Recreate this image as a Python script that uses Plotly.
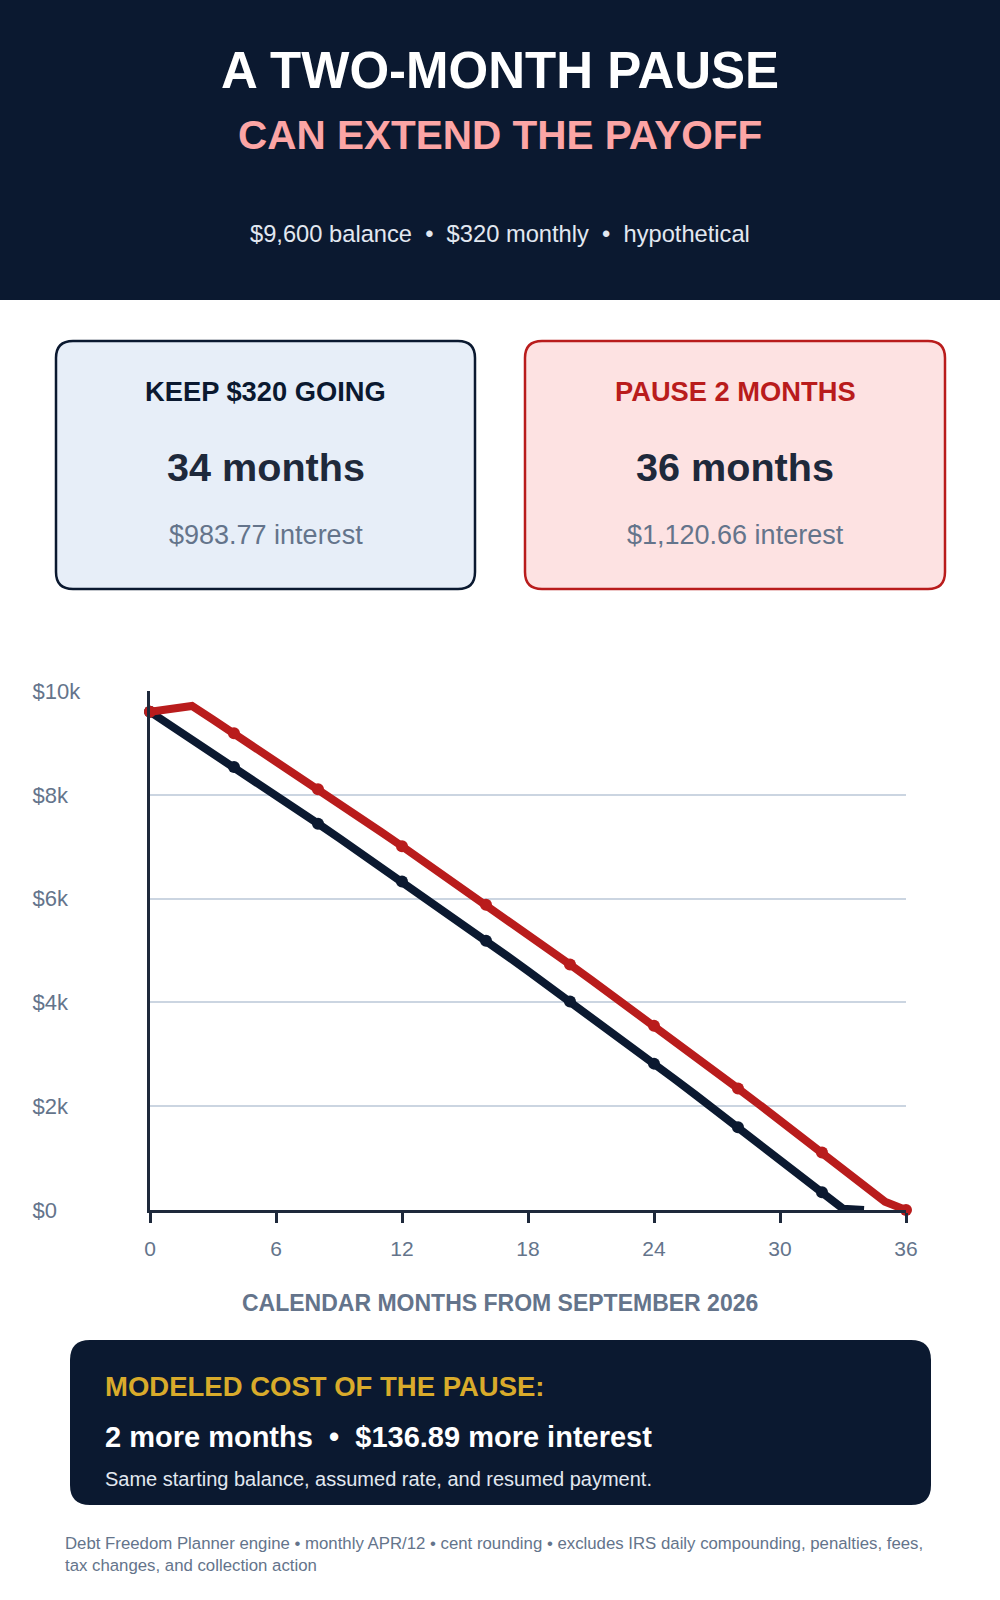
import plotly.graph_objects as go

# ---------------- data ----------------
months_keep = list(range(0, 35))
balance_keep = [9600.00, 9336.00, 9070.46, 8803.37, 8534.72, 8264.51, 7992.72, 7719.34,
                7444.37, 7167.80, 6889.61, 6609.80, 6328.36, 6045.28, 5760.54, 5474.14,
                5186.07, 4896.32, 4604.88, 4311.74, 4016.89, 3720.32, 3422.02, 3121.98,
                2820.19, 2516.64, 2211.32, 1904.22, 1595.33, 1284.64, 972.13, 657.80,
                341.64, 23.63, 0.00]

months_pause = list(range(0, 37))
balance_pause = [9600.00, 9656.00, 9712.33, 9448.99, 9184.11, 8917.68, 8649.70, 8380.16,
                 8109.04, 7836.34, 7562.05, 7286.16, 7008.66, 6729.54, 6448.80, 6166.42,
                 5882.39, 5596.70, 5309.35, 5020.32, 4729.61, 4437.20, 4143.08, 3847.25,
                 3549.69, 3250.40, 2949.36, 2646.56, 2342.00, 2035.66, 1727.53, 1417.61,
                 1105.88, 792.33, 476.95, 159.73, 0.00]

x_ticks = [0, 6, 12, 18, 24, 30, 36]
y_ticks = [0, 2000, 4000, 6000, 8000, 10000]
y_tick_labels = ["$0", "$2k", "$4k", "$6k", "$8k", "$10k"]

marker_every = 4

# ---------------- geometry helpers ----------------
W, H = 1000, 1600
L, R, T, B = 150, 906, 691, 1210
PW, PH = R - L, B - T


def px(x):
    return (x - L) / PW


def py(y):
    return (B - y) / PH


def rrect(x0, y0, x1, y1, r):
    rx, ry = r / PW, r / PH
    a, b_, c, d = px(x0), py(y0), px(x1), py(y1)  # b_ top (greater), d bottom
    return (f"M {a+rx},{b_} L {c-rx},{b_} Q {c},{b_} {c},{b_-ry} "
            f"L {c},{d+ry} Q {c},{d} {c-rx},{d} L {a+rx},{d} Q {a},{d} {a},{d+ry} "
            f"L {a},{b_-ry} Q {a},{b_} {a+rx},{b_} Z")


NAVY = "#0b1930"
RED = "#b91c1c"
SLATE = "#64748b"
FONT = "Liberation Sans, Arial, sans-serif"

fig = go.Figure()

fig.add_trace(go.Scatter(
    x=months_keep, y=balance_keep, mode="lines+markers",
    line=dict(color=NAVY, width=8),
    marker=dict(color=NAVY, opacity=1, line=dict(width=0),
                size=[12 if m % marker_every == 0 else 0 for m in months_keep]),
    cliponaxis=False, showlegend=False, hoverinfo="skip"))

fig.add_trace(go.Scatter(
    x=months_pause, y=balance_pause, mode="lines+markers",
    line=dict(color=RED, width=8),
    marker=dict(color=RED, opacity=1, line=dict(width=0),
                size=[12 if m % marker_every == 0 else 0 for m in months_pause]),
    cliponaxis=False, showlegend=False, hoverinfo="skip"))

shapes = [
    # header band
    dict(type="rect", xref="paper", yref="paper", x0=px(0), x1=px(1000), y0=py(0), y1=py(300),
         fillcolor=NAVY, line=dict(width=0), layer="below"),
    # cards
    dict(type="path", xref="paper", yref="paper", path=rrect(56, 341, 475, 589, 17),
         fillcolor="#e7eef8", line=dict(color=NAVY, width=2.5), layer="below"),
    dict(type="path", xref="paper", yref="paper", path=rrect(525, 341, 945, 589, 17),
         fillcolor="#fde2e2", line=dict(color=RED, width=2.5), layer="below"),
    # bottom box
    dict(type="path", xref="paper", yref="paper", path=rrect(70, 1340, 931, 1505, 20),
         fillcolor=NAVY, line=dict(width=0), layer="below"),
]


def ann(text, x, y, size, color, bold=False, xanchor="center", yanchor="middle", align="center"):
    return dict(text=f"<b>{text}</b>" if bold else text, x=px(x), y=py(y), xref="paper", yref="paper",
                xanchor=xanchor, yanchor=yanchor, align=align, showarrow=False,
                font=dict(family=FONT, size=size, color=color))


annotations = [
    ann("A TWO-MONTH PAUSE", 500, 70, 51, "#ffffff", bold=True),
    ann("CAN EXTEND THE PAYOFF", 500, 135, 40.5, "#fca5a5", bold=True),
    ann("$9,600 balance  •  $320 monthly  •  hypothetical", 500, 234, 23.7, "#e2e8f0"),
    ann("KEEP $320 GOING", 265.5, 391, 27.3, NAVY, bold=True),
    ann("34 months", 265.5, 467, 39.6, "#1e293b", bold=True),
    ann("$983.77 interest", 265.5, 535, 27, SLATE),
    ann("PAUSE 2 MONTHS", 735, 391, 27.3, RED, bold=True),
    ann("36 months", 735, 467, 39.6, "#1e293b", bold=True),
    ann("$1,120.66 interest", 735, 535, 27, SLATE),
    ann("CALENDAR MONTHS FROM SEPTEMBER 2026", 500, 1303, 23, SLATE, bold=True),
    ann("MODELED COST OF THE PAUSE:", 103, 1386, 27.5, "#d9ab2b", bold=True, xanchor="left"),
    ann("2 more months  •  $136.89 more interest", 103, 1437, 29, "#ffffff", bold=True, xanchor="left"),
    ann("Same starting balance, assumed rate, and resumed payment.", 103, 1479, 20, "#e2e8f0",
        xanchor="left"),
    ann("Debt Freedom Planner engine • monthly APR/12 • cent rounding • excludes IRS daily compounding, "
        "penalties, fees,<br>tax changes, and collection action", 63, 1532, 16.8, SLATE,
        xanchor="left", yanchor="top", align="left"),
]

fig.update_layout(
    width=W, height=H,
    margin=dict(l=L, r=W - R, t=T, b=H - B, autoexpand=False),
    paper_bgcolor="#ffffff", plot_bgcolor="#ffffff",
    font=dict(family=FONT, color=SLATE),
    shapes=shapes, annotations=annotations,
    xaxis=dict(range=[0, 36], tickvals=x_ticks, showgrid=False, zeroline=False,
               showline=True, linecolor="#1e293b", linewidth=3,
               ticks="outside", ticklen=10, tickwidth=2.5, tickcolor="#1e293b",
               tickfont=dict(size=21, color=SLATE), ticklabelstandoff=8, fixedrange=True),
    yaxis=dict(range=[0, 10000], tickvals=y_ticks, ticktext=y_tick_labels,
               showgrid=True, gridcolor="#cbd5e1", gridwidth=2, zeroline=False,
               showline=True, linecolor="#1e293b", linewidth=3, ticks="",
               ticklabelposition="inside", ticklabelstandoff=-116, ticklabeloverflow="allow",
               tickfont=dict(size=22, color=SLATE), fixedrange=True),
)

fig.write_html("out.html", config={"displayModeBar": False},
               post_script="document.body.style.margin='0';")
